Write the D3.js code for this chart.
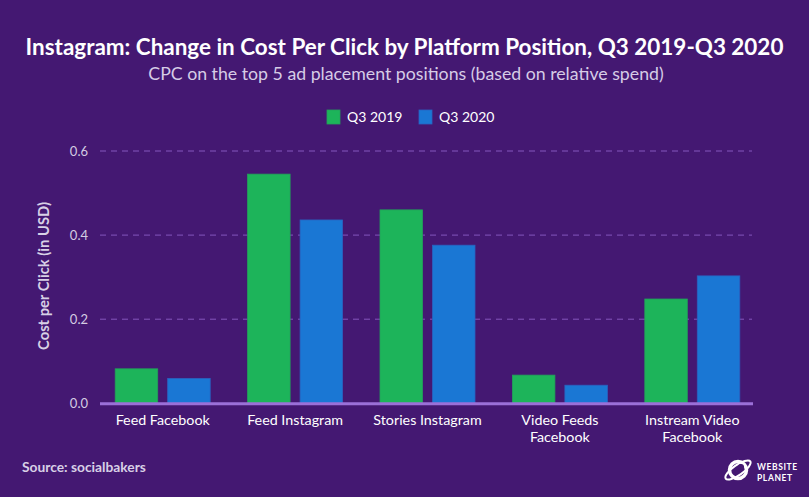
<!DOCTYPE html>
<html><head><meta charset="utf-8">
<script src="https://cdn.jsdelivr.net/npm/d3@7"></script>
<style>html,body{margin:0;padding:0;background:#441872;}svg{display:block;font-family:Lato,"Open Sans",sans-serif;}</style>
</head><body>
<svg id="c" width="809" height="497"></svg>
<script>
const categories = [["Feed Facebook"],["Feed Instagram"],["Stories Instagram"],["Video Feeds","Facebook"],["Instream Video","Facebook"]];
const seriesNames = ["Q3 2019","Q3 2020"];
const q3_2019 = [0.082, 0.545, 0.46, 0.067, 0.248];
const q3_2020 = [0.059, 0.436, 0.376, 0.043, 0.303];
const yTicks = [0.0, 0.2, 0.4, 0.6];
const colors = ["#1db45a","#1a77d4"];
const strokes = ["#23a05a","#2a62c0"];

const svg = d3.select("#c");
svg.append("rect").attr("width",809).attr("height",497).attr("fill","#441872");

const y = d3.scaleLinear().domain([0,0.6]).range([403.3,151]);
const x = d3.scaleBand().domain(d3.range(categories.length)).range([96.5,758.5]).padding(0);
const x1 = d3.scaleBand().domain([0,1]).range([x.bandwidth()/2-47.5, x.bandwidth()/2+47.5]).paddingInner(0.19);

function fit(sel, size, width){
  sel.attr("font-size", size);
  const w = sel.node().getComputedTextLength();
  sel.attr("font-size", size*width/w);
}

// title
const title = svg.append("text").attr("x",404.5).attr("y",55).attr("text-anchor","middle")
  .attr("fill","#ffffff").attr("font-weight","bold")
  .text("Instagram: Change in Cost Per Click by Platform Position, Q3 2019-Q3 2020");
fit(title, 23, 758);
const sub = svg.append("text").attr("x",406).attr("y",80).attr("text-anchor","middle")
  .attr("fill","#d6cce6")
  .text("CPC on the top 5 ad placement positions (based on relative spend)");
fit(sub, 16, 516);

// legend
const legX = [327, 419];
seriesNames.forEach((s,i)=>{
  svg.append("rect").attr("x",legX[i]).attr("y",110).attr("width",13).attr("height",14)
    .attr("fill",colors[i]).attr("stroke",strokes[i]).attr("stroke-width",0.8);
  svg.append("text").attr("x",legX[i]+20).attr("y",122).attr("fill","#ffffff")
    .attr("font-size",14).text(s);
});

// grid
const g = svg.append("g");
yTicks.filter(d=>d>0).forEach(t=>{
  g.append("line").attr("x1",100).attr("x2",752).attr("y1",y(t)).attr("y2",y(t))
    .attr("stroke","#8456bd").attr("stroke-width",1).attr("stroke-dasharray","6,5");
});
// y axis
const yAxis = d3.axisLeft(y).tickValues(yTicks).tickFormat(d3.format(".1f")).tickSize(0).tickPadding(12);
const ya = svg.append("g").attr("transform","translate(100,0)").call(yAxis);
ya.select(".domain").remove();
ya.selectAll("text").attr("fill","#d4cce2").attr("font-size",13).attr("font-family","Lato,sans-serif");

const yt = svg.append("text").attr("transform","translate(49,276) rotate(-90)").attr("text-anchor","middle")
  .attr("fill","#d8d0e6").attr("font-weight","bold")
  .text("Cost per Click (in USD)");
fit(yt, 13, 148);

// bars
const data = categories.map((c,i)=>[q3_2019[i], q3_2020[i]]);
const grp = svg.append("g").selectAll("g").data(data).join("g")
  .attr("transform",(d,i)=>`translate(${x(i)},0)`);
grp.selectAll("rect").data(d=>d.map((v,k)=>({v,k}))).join("rect")
  .attr("x",d=>x1(d.k)).attr("width",x1.bandwidth())
  .attr("y",d=>y(d.v)).attr("height",d=>y(0)-y(d.v))
  .attr("fill",d=>colors[d.k]).attr("stroke",d=>strokes[d.k]).attr("stroke-width",0.8);

// baseline
svg.append("line").attr("x1",100).attr("x2",753).attr("y1",y(0)+0.5).attr("y2",y(0)+0.5)
  .attr("stroke","#9b70d8").attr("stroke-width",3);

// x labels
categories.forEach((lines,i)=>{
  const t = svg.append("text").attr("x",x(i)+x.bandwidth()/2).attr("y",425)
    .attr("text-anchor","middle").attr("fill","#ffffff").attr("font-size",14.3);
  lines.forEach((l,j)=>t.append("tspan").attr("x",x(i)+x.bandwidth()/2).attr("dy", j===0?0:17).text(l));
});

// source
const src = svg.append("text").attr("x",22).attr("y",472).attr("fill","#d8d0e6").attr("font-weight","bold")
  .text("Source: socialbakers");
fit(src, 13, 124);

// logo
const lg = svg.append("g").attr("transform","translate(738,470)");
lg.append("circle").attr("r",8.5).attr("fill","none").attr("stroke","#ffffff").attr("stroke-width",3.5);
lg.append("ellipse").attr("rx",15).attr("ry",5).attr("transform","rotate(-35)")
  .attr("fill","none").attr("stroke","#ffffff").attr("stroke-width",2);
lg.append("circle").attr("cx",3).attr("cy",-3).attr("r",3).attr("fill","#441872");
svg.append("text").attr("x",757).attr("y",470).attr("fill","#ffffff").attr("font-weight","bold")
  .attr("font-size",8.5).attr("letter-spacing",0.6).text("WEBSITE");
svg.append("text").attr("x",757).attr("y",481).attr("fill","#ffffff").attr("font-weight","bold")
  .attr("font-size",8.5).attr("letter-spacing",0.6).text("PLANET");
</script>
</body></html>
